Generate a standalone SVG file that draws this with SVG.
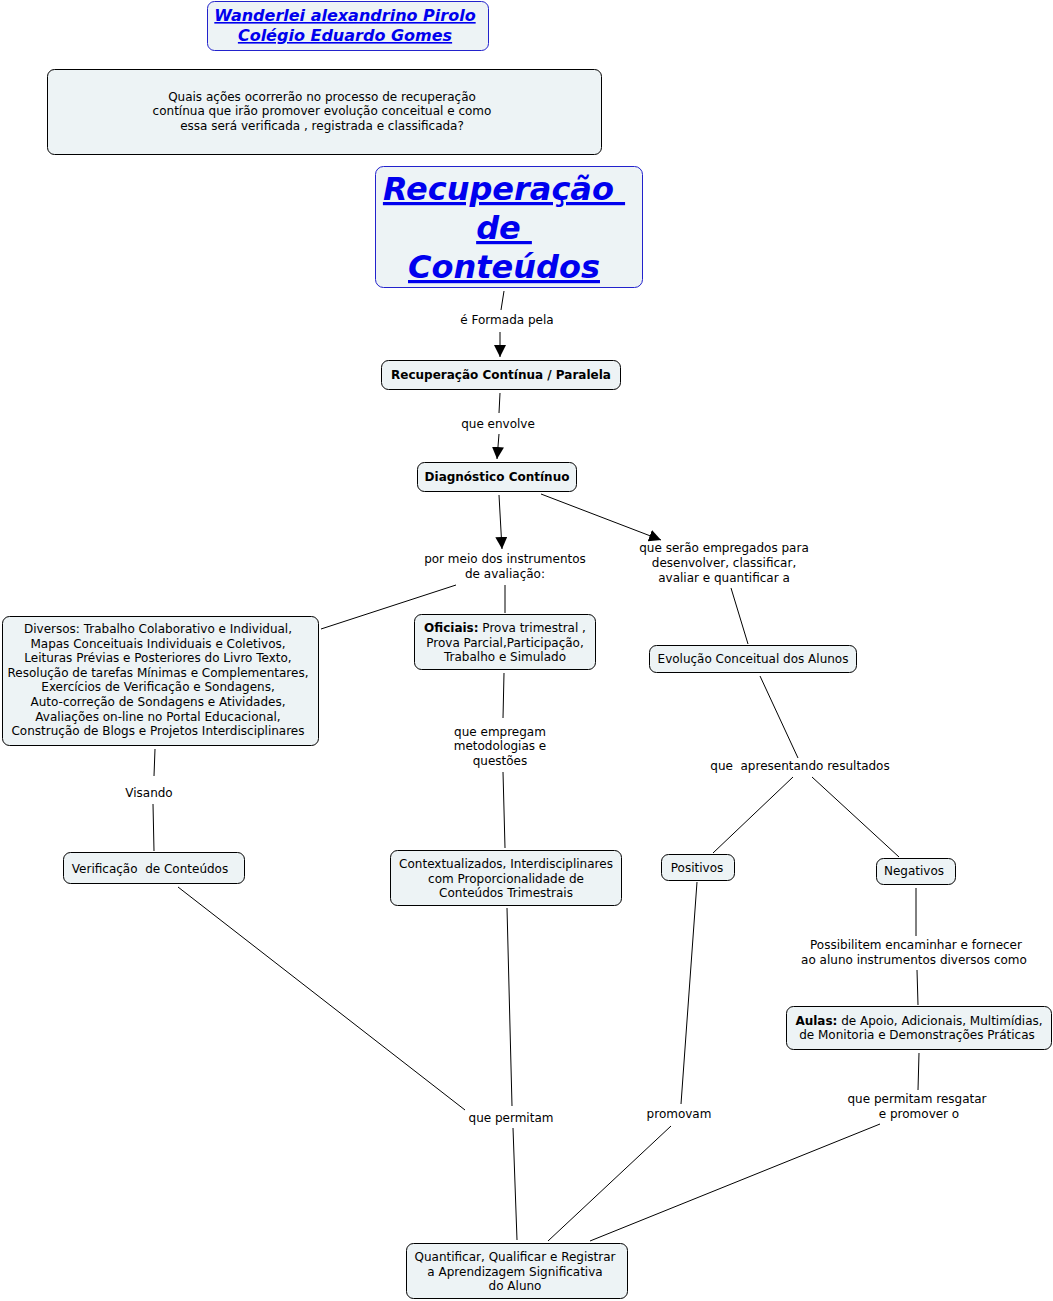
<svg xmlns="http://www.w3.org/2000/svg" width="1053" height="1301" viewBox="0 0 1053 1301">
<style>
text{font-family:"DejaVu Sans",Verdana,sans-serif;font-size:12px;fill:#000;text-anchor:middle}
.n{fill:#edf3f5;stroke:#000;stroke-width:1}
.nb{fill:#edf3f5;stroke:#2222cc;stroke-width:1}
.b{font-weight:bold}
.t{font-weight:bold;font-style:italic;text-decoration:underline;fill:#0000ee}
.c line{stroke:#000;stroke-width:1}
.a{marker-end:url(#ah)}
</style>
<defs>
<marker id="ah" viewBox="0 0 10 10" refX="10" refY="5" markerWidth="12" markerHeight="12" markerUnits="userSpaceOnUse" orient="auto">
<path d="M0,0 L10,5 L0,10 z" fill="#000"/>
</marker>
</defs>
<g class="c">
<line x1="504" y1="291" x2="501" y2="310"/>
<line class="a" x1="500" y1="332" x2="500" y2="357"/>
<line x1="500" y1="393" x2="499" y2="413"/>
<line class="a" x1="499" y1="434" x2="497" y2="459"/>
<line class="a" x1="499" y1="495" x2="502" y2="549"/>
<line class="a" x1="541" y1="494" x2="661" y2="540"/>
<line x1="456" y1="585" x2="321" y2="629"/>
<line x1="505" y1="585" x2="505" y2="613"/>
<line x1="731" y1="588" x2="748" y2="644"/>
<line x1="155" y1="749" x2="154" y2="776"/>
<line x1="153" y1="804" x2="154" y2="851"/>
<line x1="504" y1="673" x2="503" y2="718"/>
<line x1="503" y1="772" x2="505" y2="848"/>
<line x1="760" y1="676" x2="798" y2="758"/>
<line x1="793" y1="777" x2="713" y2="853"/>
<line x1="812" y1="777" x2="899" y2="857"/>
<line x1="916" y1="888" x2="916" y2="936"/>
<line x1="917" y1="970" x2="918" y2="1005"/>
<line x1="178" y1="887" x2="465" y2="1110"/>
<line x1="507" y1="908" x2="512" y2="1106"/>
<line x1="513" y1="1128" x2="517" y2="1240"/>
<line x1="697" y1="882" x2="681" y2="1104"/>
<line x1="671" y1="1126" x2="548" y2="1241"/>
<line x1="919" y1="1053" x2="918" y2="1090"/>
<line x1="880" y1="1124" x2="590" y2="1241"/>
</g>
<g id="labels">
<text x="507" y="324">é Formada pela</text>
<text x="498" y="428">que envolve</text>
<text x="505" y="563">por meio dos instrumentos</text>
<text x="505" y="578">de avaliação:</text>
<text x="724" y="552">que serão empregados para</text>
<text x="724" y="567">desenvolver, classificar,</text>
<text x="724" y="582">avaliar e quantificar a</text>
<text x="149" y="797">Visando</text>
<text x="500" y="736">que empregam</text>
<text x="500" y="750">metodologias e</text>
<text x="500" y="765">questões</text>
<text x="800" y="770" xml:space="preserve">que  apresentando resultados</text>
<text x="916" y="949">Possibilitem encaminhar e fornecer</text>
<text x="914" y="964">ao aluno instrumentos diversos como</text>
<text x="511" y="1122">que permitam</text>
<text x="679" y="1118">promovam</text>
<text x="917" y="1103">que permitam resgatar</text>
<text x="919" y="1118">e promover o</text>
</g>
<g id="n-autor">
<rect class="nb" x="207.5" y="1.5" width="281" height="49" rx="7"/>
<text class="t" x="345" y="21" style="font-size:16px">Wanderlei alexandrino Pirolo</text>
<text class="t" x="345" y="41" style="font-size:16px">Colégio Eduardo Gomes</text>
</g>
<g id="n-pergunta">
<rect class="n" x="47.5" y="69.5" width="554" height="85" rx="7"/>
<text x="322" y="101">Quais ações ocorrerão no processo de recuperação</text>
<text x="322" y="115">contínua que irão promover evolução conceitual e como</text>
<text x="322" y="130">essa será verificada , registrada e classificada?</text>
</g>
<g id="n-titulo">
<rect class="nb" x="375.5" y="166.5" width="267" height="121" rx="8"/>
<text class="t" x="504" y="200" style="font-size:32px" xml:space="preserve">Recuperação </text>
<text class="t" x="504" y="239" style="font-size:32px" xml:space="preserve">de </text>
<text class="t" x="504" y="278" style="font-size:32px">Conteúdos</text>
</g>
<g id="n-continua">
<rect class="n" x="381.5" y="360.5" width="239" height="29" rx="7"/>
<text class="b" x="501" y="379">Recuperação Contínua / Paralela</text>
</g>
<g id="n-diagnostico">
<rect class="n" x="417.5" y="462.5" width="159" height="29" rx="7"/>
<text class="b" x="497" y="481">Diagnóstico Contínuo</text>
</g>
<g id="n-diversos">
<rect class="n" x="2.5" y="616.5" width="316" height="129" rx="7"/>
<text x="158" y="633">Diversos: Trabalho Colaborativo e Individual,</text>
<text x="158" y="648">Mapas Conceituais Individuais e Coletivos,</text>
<text x="158" y="662">Leituras Prévias e Posteriores do Livro Texto,</text>
<text x="158" y="677">Resolução de tarefas Mínimas e Complementares,</text>
<text x="158" y="691">Exercícios de Verificação e Sondagens,</text>
<text x="158" y="706">Auto-correção de Sondagens e Atividades,</text>
<text x="158" y="721">Avaliações on-line no Portal Educacional,</text>
<text x="158" y="735">Construção de Blogs e Projetos Interdisciplinares</text>
</g>
<g id="n-oficiais">
<rect class="n" x="414.5" y="614.5" width="181" height="55" rx="7"/>
<text x="505" y="632"><tspan class="b">Oficiais:</tspan> Prova trimestral ,</text>
<text x="505" y="647">Prova Parcial,Participação,</text>
<text x="505" y="661">Trabalho e Simulado</text>
</g>
<g id="n-evolucao">
<rect class="n" x="649.5" y="645.5" width="207" height="27" rx="7"/>
<text x="753" y="663">Evolução Conceitual dos Alunos</text>
</g>
<g id="n-verificacao">
<rect class="n" x="63.5" y="852.5" width="181" height="31" rx="7"/>
<text x="150" y="873" xml:space="preserve">Verificação  de Conteúdos</text>
</g>
<g id="n-contextualizados">
<rect class="n" x="390.5" y="850.5" width="231" height="55" rx="7"/>
<text x="506" y="868">Contextualizados, Interdisciplinares</text>
<text x="506" y="883">com Proporcionalidade de</text>
<text x="506" y="897">Conteúdos Trimestrais</text>
</g>
<g id="n-positivos">
<rect class="n" x="661.5" y="854.5" width="73" height="26" rx="7"/>
<text x="697" y="872">Positivos</text>
</g>
<g id="n-negativos">
<rect class="n" x="876.5" y="858.5" width="79" height="26" rx="7"/>
<text x="914" y="875">Negativos</text>
</g>
<g id="n-aulas">
<rect class="n" x="786.5" y="1006.5" width="265" height="43" rx="7"/>
<text x="919" y="1025"><tspan class="b">Aulas:</tspan> de Apoio, Adicionais, Multimídias,</text>
<text x="917" y="1039">de Monitoria e Demonstrações Práticas</text>
</g>
<g id="n-quantificar">
<rect class="n" x="406.5" y="1243.5" width="221" height="55" rx="7"/>
<text x="515" y="1261">Quantificar, Qualificar e Registrar</text>
<text x="515" y="1276">a Aprendizagem Significativa</text>
<text x="515" y="1290">do Aluno</text>
</g>
</svg>
